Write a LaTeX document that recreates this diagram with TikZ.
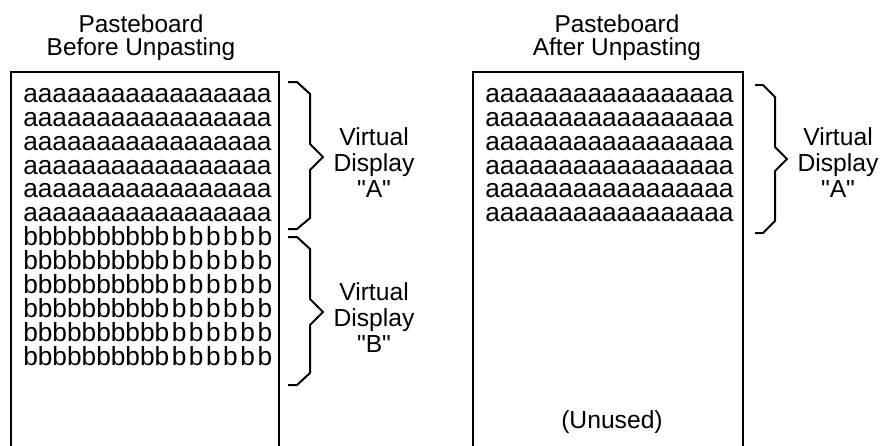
\documentclass[tikz,border=0pt]{standalone}
\usepackage{fontspec}
\setmainfont{Liberation Sans}[Ligatures=TeXOff]
\tikzset{
  pane/.style={line width=1.5pt},
  vbrace/.style={line width=1.5pt, line join=miter},
  heading/.style={align=center, inner sep=0, anchor=north, font=\fontsize{18.3}{17.3}\selectfont},
  vdlabel/.style={align=center, inner sep=0, anchor=north, font=\fontsize{18.5}{19.5}\selectfont},
  row/.style={anchor=base west, inner sep=0, font=\fontsize{19.7}{20}\selectfont}
}
\newcommand{\brow}{bbbbbbbbbb\kern1.9pt b\kern1.9pt b\kern1.9pt b\kern1.9pt b\kern1.9pt b\kern1.9pt b}
\begin{document}
\begin{tikzpicture}[x=0.75pt,y=0.75pt,yscale=-1]
\useasboundingbox (0,0) rectangle (882,446);

%Titles
\node[heading] (before) at (141,14.5) {Pasteboard\\Before Unpasting};
\node[heading] (after) at (617,14.5) {Pasteboard\\After Unpasting};

%Pasteboard before
\draw[pane] (11,446) -- (11,72) -- (279,72) -- (279,446);
\node[row] (a1) at (23,102.3) {aaaaaaaaaaaaaaaaa};
\node[row] (a2) at (23,126.2) {aaaaaaaaaaaaaaaaa};
\node[row] (a3) at (23,150.1) {aaaaaaaaaaaaaaaaa};
\node[row] (a4) at (23,174.0) {aaaaaaaaaaaaaaaaa};
\node[row] (a5) at (23,197.9) {aaaaaaaaaaaaaaaaa};
\node[row] (a6) at (23,221.8) {aaaaaaaaaaaaaaaaa};
\node[row] (b1) at (23,245.7) {\brow};
\node[row] (b2) at (23,269.6) {\brow};
\node[row] (b3) at (23,293.5) {\brow};
\node[row] (b4) at (23,317.4) {\brow};
\node[row] (b5) at (23,341.3) {\brow};
\node[row] (b6) at (23,365.2) {\brow};

%Brace A
\draw[vbrace] (288,82) -- (297,82) -- (310,94) -- (310,144) -- (323,157) -- (310,170) -- (310,218) -- (297,229) -- (288,229);
\node[vdlabel] (vda) at (374,127.3) {Virtual\\Display\\"A"};
%Brace B
\draw[vbrace] (288,237) -- (297,237) -- (310,249) -- (310,299) -- (323,312) -- (310,325) -- (310,373) -- (297,385) -- (288,385);
\node[vdlabel] (vdb) at (374,282.3) {Virtual\\Display\\"B"};

%Pasteboard after
\draw[pane] (473,446) -- (473,72) -- (743,72) -- (743,446);
\node[row] (c1) at (485,102.3) {aaaaaaaaaaaaaaaaa};
\node[row] (c2) at (485,126.2) {aaaaaaaaaaaaaaaaa};
\node[row] (c3) at (485,150.1) {aaaaaaaaaaaaaaaaa};
\node[row] (c4) at (485,174.0) {aaaaaaaaaaaaaaaaa};
\node[row] (c5) at (485,197.9) {aaaaaaaaaaaaaaaaa};
\node[row] (c6) at (485,221.8) {aaaaaaaaaaaaaaaaa};

%Brace A (after)
\draw[vbrace] (755,85) -- (763,85) -- (775,97) -- (775,147) -- (787,159) -- (775,171) -- (775,221) -- (763,233) -- (755,233);
\node[vdlabel] (vdc) at (838,127.3) {Virtual\\Display\\"A"};

\node[anchor=base, inner sep=0, font=\fontsize{18.5}{19.5}\selectfont] (unused) at (612,428) {(Unused)};
\end{tikzpicture}
\end{document}
